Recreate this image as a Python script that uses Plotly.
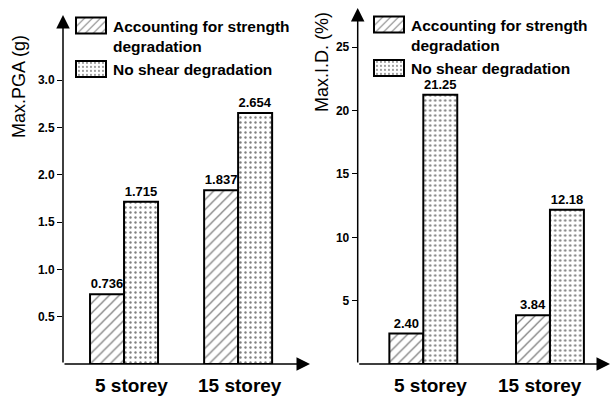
import plotly.graph_objects as go

categories = ["5 storey", "15 storey"]
series_names = ["Accounting for strength<br>degradation", "No shear degradation"]
pga_strength = [0.736, 1.837]
pga_noshear = [1.715, 2.654]
id_strength = [2.40, 3.84]
id_noshear = [21.25, 12.18]
pga_ticks = [0.5, 1.0, 1.5, 2.0, 2.5, 3.0]
pga_tick_labels = ["0.5", "1.0", "1.5", "2.0", "2.5", "3.0"]
id_ticks = [5, 10, 15, 20, 25]
id_tick_labels = ["5", "10", "15", "20", "25"]

FONT = "Liberation Sans, Arial, Helvetica, sans-serif"
W, H = 611, 398

hatch = dict(shape="/", fgcolor="black", bgcolor="white", size=7, solidity=0.18)
dots = dict(shape=".", fgcolor="black", bgcolor="white", size=5, solidity=0.18)

fig = go.Figure()

def add_pair(vals_a, vals_b, fmt, xa, ya, legend, w):
    for vals, pat, name, off in ((vals_a, hatch, series_names[0], -w),
                                 (vals_b, dots, series_names[1], 0)):
        fig.add_trace(go.Bar(
            x=categories, y=vals, name=name, width=w, offset=off,
            marker=dict(color="white", pattern=pat, line=dict(color="black", width=2)),
            text=[fmt.format(v) for v in vals], textposition="outside",
            textfont=dict(family=FONT, size=13, color="black", weight="bold"),
            constraintext="none", cliponaxis=False, hoverinfo="skip",
            xaxis=xa, yaxis=ya, legend=legend,
        ))

add_pair(pga_strength, pga_noshear, "{:.3f}", "x", "y", "legend", 0.298)
add_pair(id_strength, id_noshear, "{:.2f}", "x2", "y2", "legend2", 0.268)

tickfont = dict(family=FONT, size=12, color="black", weight="bold")
catfont = dict(family=FONT, size=19, color="black", weight="bold")

def xa(domain, rng, anchor):
    return dict(domain=domain, range=rng, type="category", anchor=anchor,
                showgrid=False, zeroline=False, showline=False, ticks="",
                showticklabels=False, automargin=False)

def ya(domain, rng, anchor, tv, tt):
    return dict(domain=domain, range=rng, anchor=anchor, showgrid=False,
                zeroline=False, showline=False, ticks="outside", ticklen=5,
                tickwidth=1, tickcolor="black", tickvals=tv, ticktext=tt,
                tickfont=tickfont, automargin=False)

annotations = []
for xr, yr in (("x", "y"), ("x2", "y2")):
    annotations.append(dict(xref=f"{xr} domain", yref=f"{yr} domain", x=0, y=1,
                            axref=f"{xr} domain", ayref=f"{yr} domain", ax=0, ay=0,
                            text="", showarrow=True, arrowhead=2, arrowsize=1.8,
                            arrowwidth=1.5, arrowcolor="black"))
    annotations.append(dict(xref=f"{xr} domain", yref=f"{yr} domain", x=1, y=0,
                            axref=f"{xr} domain", ayref=f"{yr} domain", ax=0, ay=0,
                            text="", showarrow=True, arrowhead=2, arrowsize=1.8,
                            arrowwidth=1.5, arrowcolor="black"))

# category labels under each group
cat_shift = {"x": [7, 2], "x2": [7, -10]}
for xr, yr in (("x", "y"), ("x2", "y2")):
    for cat, dx in zip(categories, cat_shift[xr]):
        annotations.append(dict(xref=xr, yref=f"{yr} domain", x=cat, y=0,
                                yshift=-21, xshift=dx, text=cat, showarrow=False,
                                font=catfont, xanchor="center", yanchor="middle"))

titlefont = dict(family=FONT, size=18, color="black")
annotations.append(dict(xref="paper", yref="paper", x=19 / W, y=1 - 87 / H,
                        text="Max.PGA (g)", textangle=-90, showarrow=False,
                        font=titlefont, xanchor="center", yanchor="middle"))
annotations.append(dict(xref="paper", yref="paper", x=322 / W, y=1 - 62 / H,
                        text="Max.I.D. (%)", textangle=-90, showarrow=False,
                        font=titlefont, xanchor="center", yanchor="middle"))

legfont = dict(family=FONT, size=15.5, color="black", weight="bold")

fig.update_layout(
    width=W, height=H, margin=dict(l=0, r=0, t=0, b=0, autoexpand=False),
    paper_bgcolor="white", plot_bgcolor="white",
    barmode="overlay", hovermode=False,
    xaxis=xa([63 / W, 310 / W], [-0.535, 1.63], "y"),
    yaxis=ya([1 - 364 / H, 1 - 15 / H], [0, 3.689], "x", pga_ticks, pga_tick_labels),
    xaxis2=xa([357.7 / W, 610 / W], [-0.518, 1.474], "y2"),
    yaxis2=ya([1 - 364 / H, 1 - 8 / H], [0, 28.1], "x2", id_ticks, id_tick_labels),
    legend=dict(x=73 / W, y=1 - 9 / H, xanchor="left", yanchor="top",
                font=legfont, bgcolor="rgba(0,0,0,0)", valign="top",
                tracegroupgap=0, traceorder="normal"),
    legend2=dict(x=371 / W, y=1 - 8 / H, xanchor="left", yanchor="top",
                 font=legfont, bgcolor="rgba(0,0,0,0)", valign="top",
                 tracegroupgap=0, traceorder="normal"),
    annotations=annotations,
    font=dict(family=FONT, color="black"),
)

post = """
document.body.style.margin='0';
var gd = document.getElementById('{plot_id}');
gd.querySelectorAll('.legendpoints path').forEach(function(p){
  p.setAttribute('d','M13,8H-17V-8H13Z');
});
"""

fig.write_html("out.html", post_script=post,
               config={"displayModeBar": False, "staticPlot": True})
